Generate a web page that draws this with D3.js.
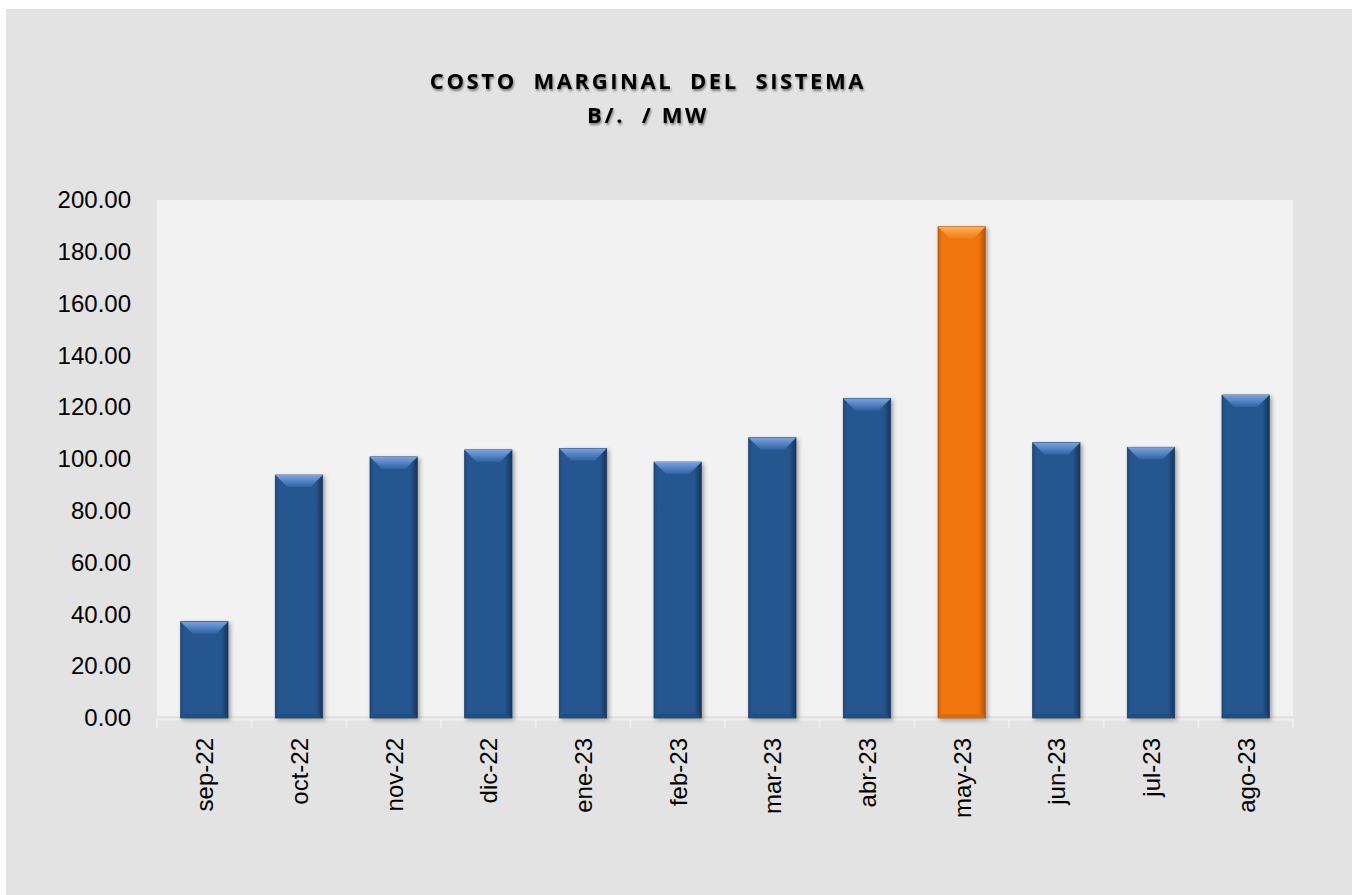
<!DOCTYPE html>
<html>
<head>
<meta charset="utf-8">
<script src="https://cdn.jsdelivr.net/npm/d3@7"></script>
<style>
  body { margin: 0; background: #ffffff; }
  svg { display: block; }
</style>
</head>
<body>
<script>
// data
var months = ["sep-22", "oct-22", "nov-22", "dic-22", "ene-23", "feb-23",
              "mar-23", "abr-23", "may-23", "jun-23", "jul-23", "ago-23"];
var costs = [37.2, 93.8, 100.8, 103.5, 104.1, 98.8, 108.2, 123.4, 189.7, 106.3, 104.5, 124.7];
var yTicks = [0, 20, 40, 60, 80, 100, 120, 140, 160, 180, 200];
var highlight = "may-23";

var width = 1352,
    height = 895;

var margin = {top: 200, right: 59, bottom: 177, left: 157};

var svg = d3.select("body")
    .append("svg")
    .attr("width", width)
    .attr("height", height);

var defs = svg.append("defs");

// shadow for bars
var shadow = defs.append("filter")
    .attr("id", "shadow")
    .attr("x", "-20%").attr("y", "-10%")
    .attr("width", "150%").attr("height", "130%");
shadow.append("feDropShadow")
    .attr("dx", 2).attr("dy", 2)
    .attr("stdDeviation", 2)
    .attr("flood-color", "#000")
    .attr("flood-opacity", 0.35);

var tshadow = defs.append("filter").attr("id", "tshadow");
tshadow.append("feDropShadow")
    .attr("dx", 1).attr("dy", 2)
    .attr("stdDeviation", 1.2)
    .attr("flood-color", "#000")
    .attr("flood-opacity", 0.45);

function sideGrad(id, c1, c2, c3) {
    var g = defs.append("linearGradient").attr("id", id)
        .attr("x1", "0").attr("x2", "1").attr("y1", "0").attr("y2", "0");
    g.append("stop").attr("offset", "0%").attr("stop-color", c1);
    g.append("stop").attr("offset", "8%").attr("stop-color", c2);
    g.append("stop").attr("offset", "85%").attr("stop-color", c2);
    g.append("stop").attr("offset", "100%").attr("stop-color", c3);
}
function topGrad(id, c1, c2) {
    var g = defs.append("linearGradient").attr("id", id)
        .attr("x1", "0").attr("x2", "0").attr("y1", "0").attr("y2", "1");
    g.append("stop").attr("offset", "0%").attr("stop-color", c1);
    g.append("stop").attr("offset", "100%").attr("stop-color", c2);
}
sideGrad("blueSide", "#1f4a80", "#27568f", "#16355d");
sideGrad("orangeSide", "#c85f0a", "#f07510", "#b85306");
topGrad("blueTop", "#7aa4e0", "#2f62a3");
topGrad("orangeTop", "#ffb055", "#f07d16");

// chart background
svg.append("rect")
    .attr("x", 6).attr("y", 9)
    .attr("width", width - 6).attr("height", height - 9)
    .attr("fill", "#e3e3e3");

svg.append("rect")
    .attr("x", margin.left).attr("y", margin.top)
    .attr("width", width - margin.left - margin.right)
    .attr("height", height - margin.top - margin.bottom - 2)
    .attr("fill", "#f2f2f2");

var x = d3.scaleBand()
    .domain(months)
    .range([margin.left, width - margin.right])
    .paddingInner(0.5)
    .paddingOuter(0.25);

var y = d3.scaleLinear()
    .domain([0, 200])
    .range([718, margin.top]);

// title
var title = svg.append("text")
    .attr("text-anchor", "middle")
    .attr("font-family", "Open Sans, sans-serif")
    .attr("font-weight", "bold")
    .attr("font-size", 22)
    .attr("letter-spacing", 2.6)
    .attr("fill", "#000")
    .attr("filter", "url(#tshadow)");
title.append("tspan").attr("x", 648).attr("y", 89).attr("xml:space", "preserve").text("COSTO  MARGINAL  DEL  SISTEMA");
title.append("tspan").attr("x", 648).attr("y", 123).attr("xml:space", "preserve").text("B/.  / MW");

// y axis
var yAxis = svg.append("g")
    .attr("transform", "translate(" + margin.left + ",0)")
    .call(d3.axisLeft(y)
        .tickValues(yTicks)
        .tickSize(0)
        .tickPadding(26)
        .tickFormat(d3.format(".2f")));
yAxis.select(".domain").remove();
yAxis.selectAll("text")
    .attr("font-family", "Liberation Sans, Arial, sans-serif")
    .attr("font-size", 24)
    .attr("fill", "#000");

// x axis
var xAxis = svg.append("g")
    .attr("transform", "translate(0,719)")
    .call(d3.axisBottom(x).tickSize(0).tickPadding(0));
xAxis.select(".domain")
    .attr("stroke", "#efefef")
    .attr("stroke-width", 2);
xAxis.selectAll("text")
    .attr("font-family", "Liberation Sans, Arial, sans-serif")
    .attr("font-size", 24)
    .attr("fill", "#000")
    .attr("text-anchor", "end")
    .attr("dy", null)
    .attr("transform", "translate(9,19) rotate(-90)");

// category separators
var step = x.step();
svg.append("g").selectAll("line")
    .data(d3.range(months.length + 1))
    .enter().append("line")
    .attr("x1", function(i) { return margin.left + i * step; })
    .attr("x2", function(i) { return margin.left + i * step; })
    .attr("y1", 719).attr("y2", 728)
    .attr("stroke", "#efefef")
    .attr("stroke-width", 2);

// bars
var bars = svg.append("g").selectAll("g")
    .data(months.map(function(m, i) { return {month: m, value: costs[i]}; }))
    .enter().append("g")
    .attr("filter", "url(#shadow)");

function isHi(d) { return d.month === highlight; }

bars.append("rect")
    .attr("x", function(d) { return x(d.month); })
    .attr("y", function(d) { return y(d.value); })
    .attr("width", x.bandwidth())
    .attr("height", function(d) { return y(0) - y(d.value); })
    .attr("fill", function(d) { return isHi(d) ? "url(#orangeSide)" : "url(#blueSide)"; })
    .attr("stroke", function(d) { return isHi(d) ? "#a85a1c" : "#1d3d66"; })
    .attr("stroke-width", 0.8);

// top bevel
bars.append("path")
    .attr("d", function(d) {
        var x0 = x(d.month), w = x.bandwidth(), t = y(d.value), b = 12;
        return "M" + x0 + "," + t + "L" + (x0 + w) + "," + t +
               "L" + (x0 + w - b) + "," + (t + b) + "L" + (x0 + b) + "," + (t + b) + "Z";
    })
    .attr("fill", function(d) { return isHi(d) ? "url(#orangeTop)" : "url(#blueTop)"; });

// bottom bevel
bars.append("path")
    .attr("d", function(d) {
        var x0 = x(d.month), w = x.bandwidth(), bt = y(0), b = 4;
        return "M" + x0 + "," + bt + "L" + (x0 + w) + "," + bt +
               "L" + (x0 + w - b) + "," + (bt - b) + "L" + (x0 + b) + "," + (bt - b) + "Z";
    })
    .attr("fill", function(d) { return isHi(d) ? "#d86a10" : "#224c80"; })
    .attr("opacity", 0.8);
</script>
</body>
</html>
